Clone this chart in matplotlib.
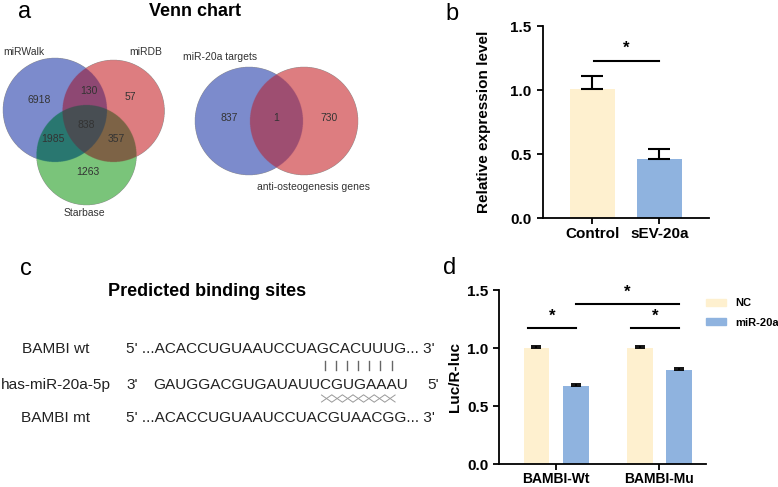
import numpy as np
import matplotlib
matplotlib.use("Agg")
import matplotlib.pyplot as plt
from matplotlib.patches import Patch

plt.rcParams['font.family'] = ['Liberation Sans', 'DejaVu Sans']

# ---- panel a: Venn counts ----
venn3_names = ["miRWalk", "miRDB", "Starbase"]
# order: only A, only B, only C, A&B, A&C, B&C, A&B&C
venn3_counts = [6918, 57, 1263, 130, 1985, 357, 838]
venn2_names = ["miR-20a targets", "anti-osteogenesis genes"]
# order: only A, only B, A&B
venn2_counts = [837, 730, 1]

# ---- panel b ----
groups_b = ["Control", "sEV-20a"]
expr_mean = [1.01, 0.46]
expr_err = [0.10, 0.08]

# ---- panel c ----
seq_names = ["BAMBI wt", "has-miR-20a-5p", "BAMBI mt"]
seq_wt = "5' ...ACACCUGUAAUCCUAGCACUUUG... 3'"
seq_mir = "GAUGGACGUGAUAUUCGUGAAAU"
seq_mt = "5' ...ACACCUGUAAUCCUACGUAACGG... 3'"
n_pairs = 7

# ---- panel d ----
groups_d = ["BAMBI-Wt", "BAMBI-Mu"]
nc_mean = [1.00, 1.00]
nc_err = [0.02, 0.02]
mir_mean = [0.675, 0.81]
mir_err = [0.012, 0.02]

c_yellow = "#FEF0CF"
c_blue = "#8FB3DF"

W, H = 778, 487
fig = plt.figure(figsize=(W / 100, H / 100), dpi=100)

# overlay in pixel coordinates for venn + sequence text
ov = fig.add_axes([0, 0, 1, 1])
ov.axis("off")


def rgb(r, g, b):
    return (r / 255, g / 255, b / 255, 1.0)


def venn_image(circles, colors, x0, x1, y0, y1, res=4):
    xs = np.arange(x0, x1, 1 / res) + 0.5 / res
    ys = np.arange(y0, y1, 1 / res) + 0.5 / res
    X, Y = np.meshgrid(xs, ys)
    code = np.zeros(X.shape, dtype=int)
    for i, (cx, cy, r) in enumerate(circles):
        code |= (((X - cx) ** 2 + (Y - cy) ** 2) <= r * r).astype(int) << i
    img = np.zeros(X.shape + (4,))
    for k, col in colors.items():
        img[code == k] = col
    ov.imshow(img, extent=(x0, x1, y1, y0), origin="upper",
              interpolation="antialiased", aspect="auto")


txt = "#333333"

# three-set venn
circ3 = [(55, 110, 52), (113.5, 111, 51), (86.5, 155, 50)]
cols3 = {1: rgb(124, 139, 204), 2: rgb(221, 125, 128), 4: rgb(122, 197, 122),
         3: rgb(142, 72, 115), 5: rgb(42, 120, 112), 6: rgb(125, 100, 70),
         7: rgb(72, 78, 84)}
venn_image(circ3, cols3, 0, 170, 50, 210)
pos3 = [(39, 100), (130, 97), (88, 172), (89, 91), (53, 139), (116, 139), (86, 125)]
for (x, y), n in zip(pos3, venn3_counts):
    ov.text(x, y, str(n), ha="center", va="center", fontsize=7.5, color=txt)
for (x, y), s in zip([(24, 52), (146, 52), (84, 213)], venn3_names):
    ov.text(x, y, s, ha="center", va="center", fontsize=7.5, color=txt)

# two-set venn
circ2 = [(249, 121, 54), (304, 121, 54)]
cols2 = {1: rgb(124, 139, 204), 2: rgb(221, 125, 128), 3: rgb(158, 78, 113)}
venn_image(circ2, cols2, 190, 362, 62, 180)
pos2 = [(229, 118), (329, 118), (276, 118)]
for (x, y), n in zip(pos2, venn2_counts):
    ov.text(x, y, str(n), ha="center", va="center", fontsize=7.5, color=txt)
for (x, y), s in zip([(220, 57), (314, 187)], venn2_names):
    ov.text(x, y, s, ha="center", va="center", fontsize=7.5, color=txt)

ov.set_xlim(0, W)
ov.set_ylim(H, 0)

# titles and panel letters
ov.text(195, 11, "Venn chart", ha="center", va="center", fontsize=13, fontweight="bold")
ov.text(207, 291, "Predicted binding sites", ha="center", va="center",
        fontsize=13, fontweight="bold")
for (x, y), s in zip([(25, 17.5), (452.5, 20), (26, 275), (450, 274)], "abcd"):
    ov.text(x, y, s, ha="center", va="baseline", fontsize=17)

# sequences
seq_fs = 11.1
for y, s in zip([349, 385, 418], seq_names):
    ov.text(56, y, s, ha="center", va="center", fontsize=seq_fs, color="#222222")
ov.text(126, 349, seq_wt, ha="left", va="center", fontsize=seq_fs, color="#222222")
ov.text(126, 418, seq_mt, ha="left", va="center", fontsize=seq_fs, color="#222222")
ov.text(126, 385, "3'", ha="left", va="center", fontsize=seq_fs, color="#222222")
ov.text(153, 385, seq_mir, ha="left", va="center", fontsize=seq_fs, color="#222222")
ov.text(427, 385, "5'", ha="left", va="center", fontsize=seq_fs, color="#222222")
for i in range(n_pairs):
    xb = 325 + i * 11.1
    ov.plot([xb, xb], [361, 370], color="#666666", lw=1.0)
    xc = 326.5 + i * 10.6
    ov.plot([xc - 5, xc + 5], [395, 402], color="#9a9a9a", lw=0.7)
    ov.plot([xc - 5, xc + 5], [402, 395], color="#9a9a9a", lw=0.7)


def style_axes(ax):
    for sp in ["top", "right"]:
        ax.spines[sp].set_visible(False)
    for sp in ["left", "bottom"]:
        ax.spines[sp].set_linewidth(1.3)
    ax.tick_params(width=1.3, length=4.5)
    ax.patch.set_alpha(0)


# ---- panel b axes ----
axb = fig.add_axes([542.7 / W, (H - 218) / H, 166.3 / W, 192 / H])
xb_pos = np.arange(len(groups_b))
axb.bar(xb_pos, expr_mean, width=0.67, color=[c_yellow, c_blue])
axb.errorbar(xb_pos, expr_mean, yerr=[np.zeros(2), expr_err], fmt="none",
             ecolor="black", elinewidth=1.5, capsize=8, capthick=1.5)
axb.set_xlim(-0.74, 1.74)
axb.set_ylim(0, 1.5)
axb.set_yticks([0, 0.5, 1.0, 1.5])
axb.set_yticklabels(["0.0", "0.5", "1.0", "1.5"])
axb.set_xticks(xb_pos)
axb.set_xticklabels(groups_b)
style_axes(axb)
axb.tick_params(axis="x", pad=2)
for lab in axb.get_xticklabels() + axb.get_yticklabels():
    lab.set_fontweight("bold")
    lab.set_fontsize(11)
axb.set_ylabel("Relative expression level", fontsize=11, fontweight="bold")
axb.yaxis.set_label_coords(-0.31, 0.5)
axb.plot([0.02, 0.99], [1.23, 1.23], color="black", lw=1.5, clip_on=False)
axb.text(0.5, 1.27, "*", ha="center", va="bottom", fontsize=12, fontweight="bold")

# ---- panel d axes ----
axd = fig.add_axes([499.3 / W, (H - 464) / H, 206.4 / W, 174 / H])
xd = np.arange(len(groups_d))
off, bw = 0.19, 0.25
axd.bar(xd - off, nc_mean, width=bw, color=c_yellow, label="NC")
axd.bar(xd + off, mir_mean, width=bw, color=c_blue, label="miR-20a")
axd.errorbar(xd - off, nc_mean, yerr=[np.zeros(2), nc_err], fmt="none",
             ecolor="black", elinewidth=1.3, capsize=3.5, capthick=1.3)
axd.errorbar(xd + off, mir_mean, yerr=[np.zeros(2), mir_err], fmt="none",
             ecolor="black", elinewidth=1.3, capsize=3.5, capthick=1.3)
axd.set_xlim(-0.55, 1.45)
axd.set_ylim(0, 1.5)
axd.set_yticks([0, 0.5, 1.0, 1.5])
axd.set_yticklabels(["0.0", "0.5", "1.0", "1.5"])
axd.set_xticks(xd)
axd.set_xticklabels(groups_d)
style_axes(axd)
axd.tick_params(axis="x", pad=1)
for lab in axd.get_yticklabels():
    lab.set_fontweight("bold")
    lab.set_fontsize(11)
for lab in axd.get_xticklabels():
    lab.set_fontweight("bold")
    lab.set_fontsize(10)
axd.set_ylabel("Luc/R-luc", fontsize=11, fontweight="bold")
axd.yaxis.set_label_coords(-0.18, 0.5)
for x0, x1, y in [(-0.27, 0.19, 1.17), (0.73, 1.19, 1.17), (0.19, 1.19, 1.38)]:
    axd.plot([x0, x1], [y, y], color="black", lw=1.5, clip_on=False)
    axd.text((x0 + x1) / 2, y + 0.035, "*", ha="center", va="bottom",
             fontsize=12, fontweight="bold", clip_on=False)
axd.legend(handles=[Patch(color=c_yellow, label="NC"), Patch(color=c_blue, label="miR-20a")],
           loc="upper left", bbox_to_anchor=(0.975, 0.985), frameon=False,
           handlelength=1.8, handleheight=0.55, handletextpad=0.8,
           labelspacing=0.85, borderpad=0, prop={"weight": "bold", "size": 8})

fig.savefig("out.png", dpi=100)
